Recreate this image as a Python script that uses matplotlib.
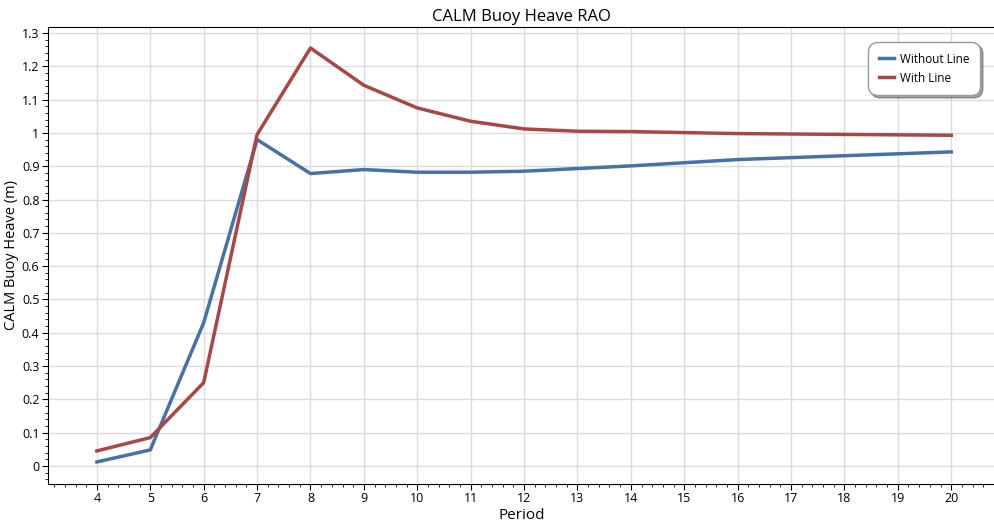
import matplotlib.pyplot as plt
from matplotlib.ticker import MultipleLocator

plt.rcParams['font.family'] = ['Open Sans', 'DejaVu Sans']

period = [4, 5, 6, 7, 8, 9, 10, 11, 12, 13, 14, 16, 20]
without_line = [0.012, 0.048, 0.43, 0.98, 0.878, 0.89, 0.882, 0.882, 0.885, 0.893, 0.901, 0.92, 0.943]
with_line = [0.045, 0.085, 0.25, 0.995, 1.255, 1.143, 1.075, 1.035, 1.012, 1.005, 1.004, 0.998, 0.993]

fig = plt.figure(figsize=(9.95, 5.30), dpi=100)
ax = fig.add_axes([0.048, 0.087, 0.952, 0.862])

ax.plot(period, without_line, color='#4572a7', lw=2.5, label='Without Line')
ax.plot(period, with_line, color='#aa4643', lw=2.5, label='With Line')

ax.set_xlim(3.08, 20.82)
ax.set_ylim(-0.054, 1.318)
ax.xaxis.set_minor_locator(MultipleLocator(0.2))
ax.yaxis.set_minor_locator(MultipleLocator(0.02))
ax.set_yticks([i / 10 for i in range(14)])
ax.set_yticklabels(['0'] + ['%g' % (i / 10) for i in range(1, 14)])
ax.set_xticks(range(4, 21))
ax.grid(True, which='major', color='#dcdcdc', lw=1)
ax.set_axisbelow(True)
ax.tick_params(labelsize=9, length=4, direction='out', pad=2)
ax.tick_params(which='minor', length=2)

ax.set_title('CALM Buoy Heave RAO', fontsize=12, pad=4)
ax.set_xlabel('Period', fontsize=11, labelpad=2)
ax.set_ylabel('CALM Buoy Heave (m)', fontsize=10.5, labelpad=2)

leg = ax.legend(loc='upper right', fontsize=8.5, fancybox=True, shadow=True,
                framealpha=1, edgecolor='#999999', borderpad=0.7,
                handlelength=1.3, handletextpad=0.5,
                bbox_to_anchor=(0.988, 0.975))
leg.get_frame().set_boxstyle('round', pad=0.2, rounding_size=0.8)

fig.savefig('out.png', dpi=100)
